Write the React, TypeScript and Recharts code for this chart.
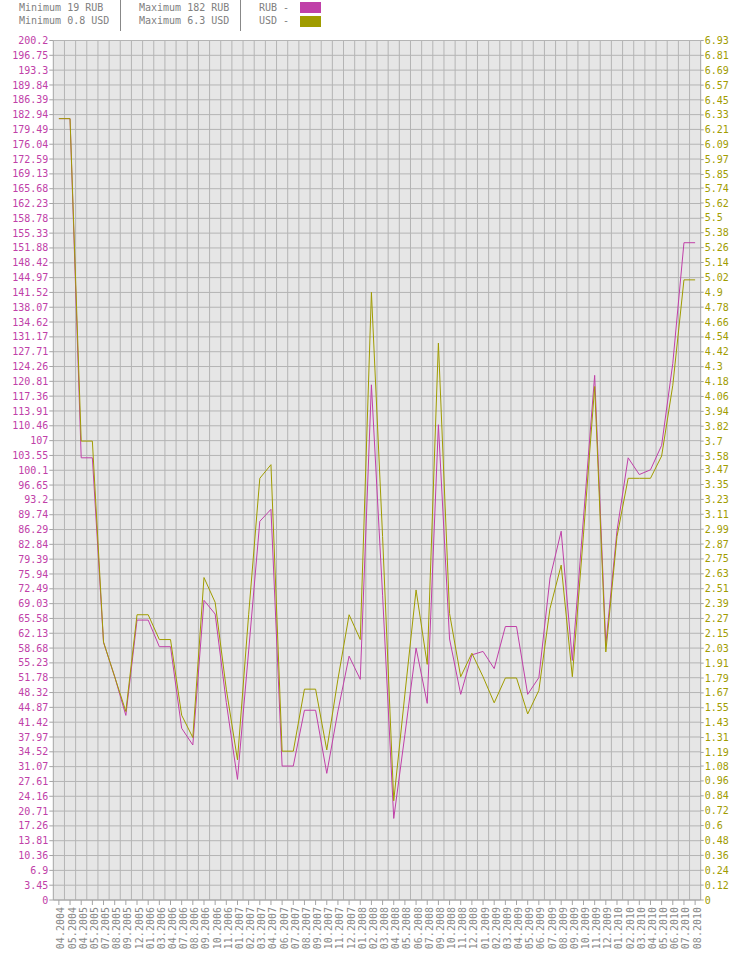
import React from 'react';
import { LineChart, Line, XAxis, YAxis, CartesianGrid } from 'recharts';

// Month labels along the x axis (only months with a recorded price)
const months = [
  '04.2004', '05.2004', '04.2005', '05.2005', '07.2005', '08.2005', '09.2005', '12.2005',
  '01.2006', '03.2006', '04.2006', '07.2006', '08.2006', '09.2006', '10.2006', '11.2006',
  '01.2007', '02.2007', '03.2007', '04.2007', '06.2007', '07.2007', '08.2007', '09.2007',
  '10.2007', '11.2007', '12.2007', '01.2008', '02.2008', '03.2008', '04.2008', '05.2008',
  '06.2008', '07.2008', '09.2008', '10.2008', '11.2008', '12.2008', '01.2009', '02.2009',
  '03.2009', '04.2009', '05.2009', '06.2009', '07.2009', '08.2009', '09.2009', '10.2009',
  '11.2009', '12.2009', '01.2010', '02.2010', '03.2010', '04.2010', '05.2010', '06.2010',
  '07.2010', '08.2010',
];

// Price in roubles
const rubValues = [
  182, 182, 103, 103, 60, 52, 43, 65.2,
  65.2, 59, 59, 40, 36.1, 69.8, 66.6, 46,
  28.1, 58, 88.2, 91, 31.2, 31.2, 44.2, 44.2,
  29.5, 44, 56.8, 51.4, 120, 71, 19, 38.5,
  58.7, 45.8, 110.7, 60.8, 47.9, 57.1, 57.9, 53.9,
  63.7, 63.7, 47.9, 51.8, 75, 85.9, 55.8, 89,
  122.2, 59.5, 86, 103, 99.1, 100.2, 105.9, 125,
  153.1, 153.1,
];

// Price in US dollars
const usdValues = [
  6.3, 6.3, 3.7, 3.7, 2.08, 1.8, 1.52, 2.3,
  2.3, 2.1, 2.1, 1.49, 1.31, 2.6, 2.4, 1.7,
  1.13, 2.3, 3.4, 3.51, 1.2, 1.2, 1.7, 1.7,
  1.21, 1.78, 2.3, 2.1, 4.9, 2.93, 0.8, 1.66,
  2.5, 1.9, 4.49, 2.31, 1.8, 1.99, 1.8, 1.59,
  1.79, 1.79, 1.5, 1.69, 2.35, 2.7, 1.8, 2.95,
  4.14, 2.0, 2.93, 3.4, 3.4, 3.4, 3.58, 4.15,
  5.0, 5.0,
];

// Left axis tick labels (RUB)
const rubTicks = [
  0, 3.45, 6.9, 10.36, 13.81, 17.26, 20.71, 24.16, 27.61, 31.07, 34.52, 37.97, 41.42, 44.87,
  48.32, 51.78, 55.23, 58.68, 62.13, 65.58, 69.03, 72.49, 75.94, 79.39, 82.84, 86.29, 89.74,
  93.2, 96.65, 100.1, 103.55, 107, 110.46, 113.91, 117.36, 120.81, 124.26, 127.71, 131.17,
  134.62, 138.07, 141.52, 144.97, 148.42, 151.88, 155.33, 158.78, 162.23, 165.68, 169.13,
  172.59, 176.04, 179.49, 182.94, 186.39, 189.84, 193.3, 196.75, 200.2,
];

// Right axis tick labels (USD)
const usdTicks = [
  0, 0.12, 0.24, 0.36, 0.48, 0.6, 0.72, 0.84, 0.96, 1.08, 1.19, 1.31, 1.43, 1.55, 1.67, 1.79,
  1.91, 2.03, 2.15, 2.27, 2.39, 2.51, 2.63, 2.75, 2.87, 2.99, 3.11, 3.23, 3.35, 3.47, 3.58,
  3.7, 3.82, 3.94, 4.06, 4.18, 4.3, 4.42, 4.54, 4.66, 4.78, 4.9, 5.02, 5.14, 5.26, 5.38, 5.5,
  5.62, 5.74, 5.85, 5.97, 6.09, 6.21, 6.33, 6.45, 6.57, 6.69, 6.81, 6.93,
];

const RUB_COLOR = '#c040a8';
const USD_COLOR = '#a09c00';
const TEXT_GRAY = '#888888';
const GRID_GRAY = '#b4b4b4';
const AXIS_GRAY = '#a4a4a4';
const PLOT_BG = '#e6e6e6';
const FONT = "'DejaVu Sans Mono', 'Liberation Mono', monospace";

const data = months.map((m, i) => ({ idx: i, month: m, rub: rubValues[i], usd: usdValues[i] }));
const monthIndexes = months.map((_, i) => i);
// Each month occupies one slot; grid lines sit on slot boundaries
const slotBounds = months.slice(1).map((_, j) => j + 0.5);

const rubMin = Math.min(...rubValues);
const rubMax = Math.max(...rubValues);
const usdMin = Math.min(...usdValues);
const usdMax = Math.max(...usdValues);

function MonthTick(props: any) {
  const { x, y, payload } = props;
  const label = months[payload.value];
  const cx = x + 2;
  return (
    <text
      x={cx}
      y={y}
      transform={`rotate(-90, ${cx}, ${y})`}
      textAnchor="end"
      dominantBaseline="central"
      fontSize={10}
      fontFamily={FONT}
      fill={TEXT_GRAY}
    >
      {label}
    </text>
  );
}

const headerText: React.CSSProperties = {
  position: 'absolute',
  top: 1,
  fontFamily: FONT,
  fontSize: 10,
  lineHeight: '13px',
  color: '#808080',
  whiteSpace: 'pre',
};

function Header() {
  return (
    <>
      <div style={{ ...headerText, left: 19 }}>
        {`Minimum ${rubMin} RUB`}
        <br />
        {`Minimum ${usdMin} USD`}
      </div>
      <div style={{ position: 'absolute', left: 120, top: 0, width: 1, height: 31, background: '#888' }} />
      <div style={{ ...headerText, left: 139 }}>
        {`Maximum ${rubMax} RUB`}
        <br />
        {`Maximum ${usdMax} USD`}
      </div>
      <div style={{ position: 'absolute', left: 240, top: 0, width: 1, height: 31, background: '#888' }} />
      <div style={{ ...headerText, left: 259 }}>
        {'RUB -'}
        <br />
        {'USD -'}
      </div>
      <div style={{ position: 'absolute', left: 300, top: 2, width: 21, height: 11, background: RUB_COLOR }} />
      <div style={{ position: 'absolute', left: 300, top: 16, width: 21, height: 11, background: USD_COLOR }} />
    </>
  );
}

export default function App() {
  return (
    <div style={{ position: 'absolute', left: 0, top: 0, width: 740, height: 980, background: '#fff' }}>
      <LineChart
        width={740}
        height={980}
        data={data}
        margin={{ top: 40.5, right: 3.3, bottom: 5, left: 3.3 }}
      >
        <CartesianGrid
          yAxisId="rub"
          fill={PLOT_BG}
          fillOpacity={1}
          stroke={GRID_GRAY}
          strokeWidth={1}
          verticalCoordinatesGenerator={({ offset }: any) =>
            slotBounds.map((b) => offset.left + ((b + 0.5) / months.length) * offset.width)
          }
        />
        <XAxis
          dataKey="idx"
          type="number"
          domain={[-0.5, months.length - 0.5]}
          ticks={monthIndexes}
          interval={0}
          height={75}
          tickSize={5}
          tickMargin={2}
          stroke={AXIS_GRAY}
          tick={(p: any) => <MonthTick {...p} />}
        />
        <YAxis
          yAxisId="rub"
          orientation="left"
          domain={[0, 200.2]}
          ticks={rubTicks}
          interval={0}
          width={50}
          tickSize={4}
          tickMargin={1}
          stroke={AXIS_GRAY}
          tick={{ fill: RUB_COLOR, fontSize: 10, fontFamily: FONT }}
          tickFormatter={(v: number) => String(v)}
        />
        <YAxis
          yAxisId="usd"
          orientation="right"
          domain={[0, 6.93]}
          ticks={usdTicks}
          interval={0}
          width={36}
          tickSize={3}
          tickMargin={1}
          stroke={AXIS_GRAY}
          tick={{ fill: USD_COLOR, fontSize: 10, fontFamily: FONT }}
          tickFormatter={(v: number) => String(v)}
        />
        <Line
          yAxisId="rub"
          type="linear"
          dataKey="rub"
          stroke={RUB_COLOR}
          strokeWidth={1}
          dot={false}
          activeDot={false}
          isAnimationActive={false}
        />
        <Line
          yAxisId="usd"
          type="linear"
          dataKey="usd"
          stroke={USD_COLOR}
          strokeWidth={1}
          dot={false}
          activeDot={false}
          isAnimationActive={false}
        />
      </LineChart>
      <Header />
    </div>
  );
}
